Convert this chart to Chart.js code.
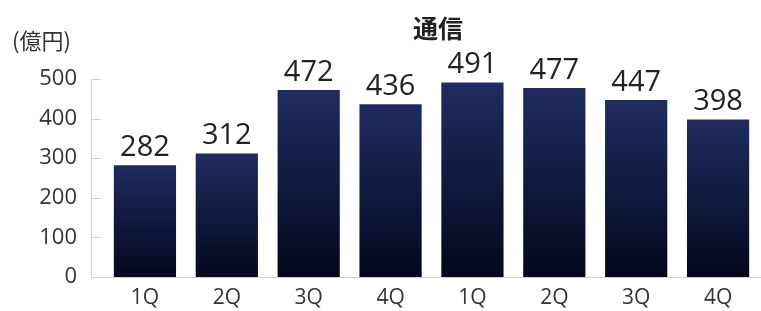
<!DOCTYPE html>
<html>
<head>
<meta charset="utf-8">
<script src="https://cdn.jsdelivr.net/npm/chart.js@4/dist/chart.umd.min.js"></script>
<style>
  html, body { margin: 0; padding: 0; background: #fff; }
  #wrap { width: 761px; height: 311px; position: relative; }
</style>
</head>
<body>
<div id="wrap"><canvas id="myChart"></canvas></div>
<script>
// data
var categories = ["1Q", "2Q", "3Q", "4Q", "1Q", "2Q", "3Q", "4Q"];
var values = [282, 312, 472, 436, 491, 477, 447, 398];
var yTicks = [0, 100, 200, 300, 400, 500];
var titleText = "通信";
var unitText = "(億円)";

var FONT = "'Open Sans', 'Noto Sans CJK JP', sans-serif";

function barGradient(ctx) {
  var chart = ctx.chart;
  if (!chart.chartArea || ctx.parsed == null) return "#141e48";
  var ys = chart.scales.y;
  var top = ys.getPixelForValue(ctx.parsed.y);
  var bottom = ys.getPixelForValue(0);
  var g = chart.ctx.createLinearGradient(0, top, 0, bottom);
  g.addColorStop(0, "#1e2c60");
  g.addColorStop(1, "#04071c");
  return g;
}

// axis lines, inward ticks, labels, title
var decor = {
  id: "decor",
  beforeDatasetsDraw: function(chart) {
    var c = chart.ctx, ys = chart.scales.y, area = chart.chartArea;
    var ax = area.left - 13;
    c.save();
    c.strokeStyle = "#d0d0d0";
    c.lineWidth = 1;
    c.beginPath();
    c.moveTo(ax + 0.5, ys.getPixelForValue(500));
    c.lineTo(ax + 0.5, ys.getPixelForValue(0));
    yTicks.forEach(function(t) {
      if (t === 0) return;
      var y = Math.round(ys.getPixelForValue(t)) + 0.5;
      c.moveTo(ax, y);
      c.lineTo(ax + 10, y);
    });
    var y0 = Math.round(ys.getPixelForValue(0)) + 0.5;
    c.moveTo(ax, y0);
    c.lineTo(chart.width, y0);
    c.stroke();
    c.restore();
  },
  afterDatasetsDraw: function(chart) {
    var c = chart.ctx;
    var meta = chart.getDatasetMeta(0);
    c.save();
    c.fillStyle = "#222";
    c.font = "29px " + FONT;
    c.textAlign = "center";
    c.textBaseline = "bottom";
    meta.data.forEach(function(bar, i) {
      c.fillText(String(values[i]), bar.x, bar.y - 3);
    });
    c.font = "bold 25px 'Noto Sans CJK JP', sans-serif";
    c.textBaseline = "middle";
    c.fillText(titleText, 438, 28);
    c.font = "22px 'Noto Sans CJK JP', sans-serif";
    c.fillStyle = "#333";
    c.textAlign = "left";
    c.fillText(unitText, 12, 41);
    c.restore();
  }
};

new Chart(document.getElementById("myChart"), {
  type: "bar",
  data: {
    labels: categories,
    datasets: [{
      data: values,
      backgroundColor: barGradient,
      borderWidth: 0,
      categoryPercentage: 0.76,
      barPercentage: 1
    }]
  },
  options: {
    responsive: true,
    maintainAspectRatio: false,
    animation: false,
    layout: { padding: { top: 79, right: 2, left: 0, bottom: 0 } },
    plugins: {
      legend: { display: false },
      tooltip: { enabled: false },
      title: { display: false }
    },
    scales: {
      x: {
        grid: { display: false, drawTicks: false },
        border: { display: false },
        ticks: { color: "#333", font: { size: 21, family: FONT }, padding: 8 },
        afterFit: function(s) { s.height = 34; s.paddingLeft = 0; s.paddingRight = 0; }
      },
      y: {
        min: 0,
        max: 500,
        grid: { display: false, drawTicks: false },
        border: { display: false },
        ticks: { stepSize: 100, color: "#333", font: { size: 22, family: FONT }, padding: 27 },
        afterFit: function(s) { s.width = 104; s.paddingTop = 0; s.paddingBottom = 0; }
      }
    }
  },
  plugins: [decor]
});
</script>
</body>
</html>
